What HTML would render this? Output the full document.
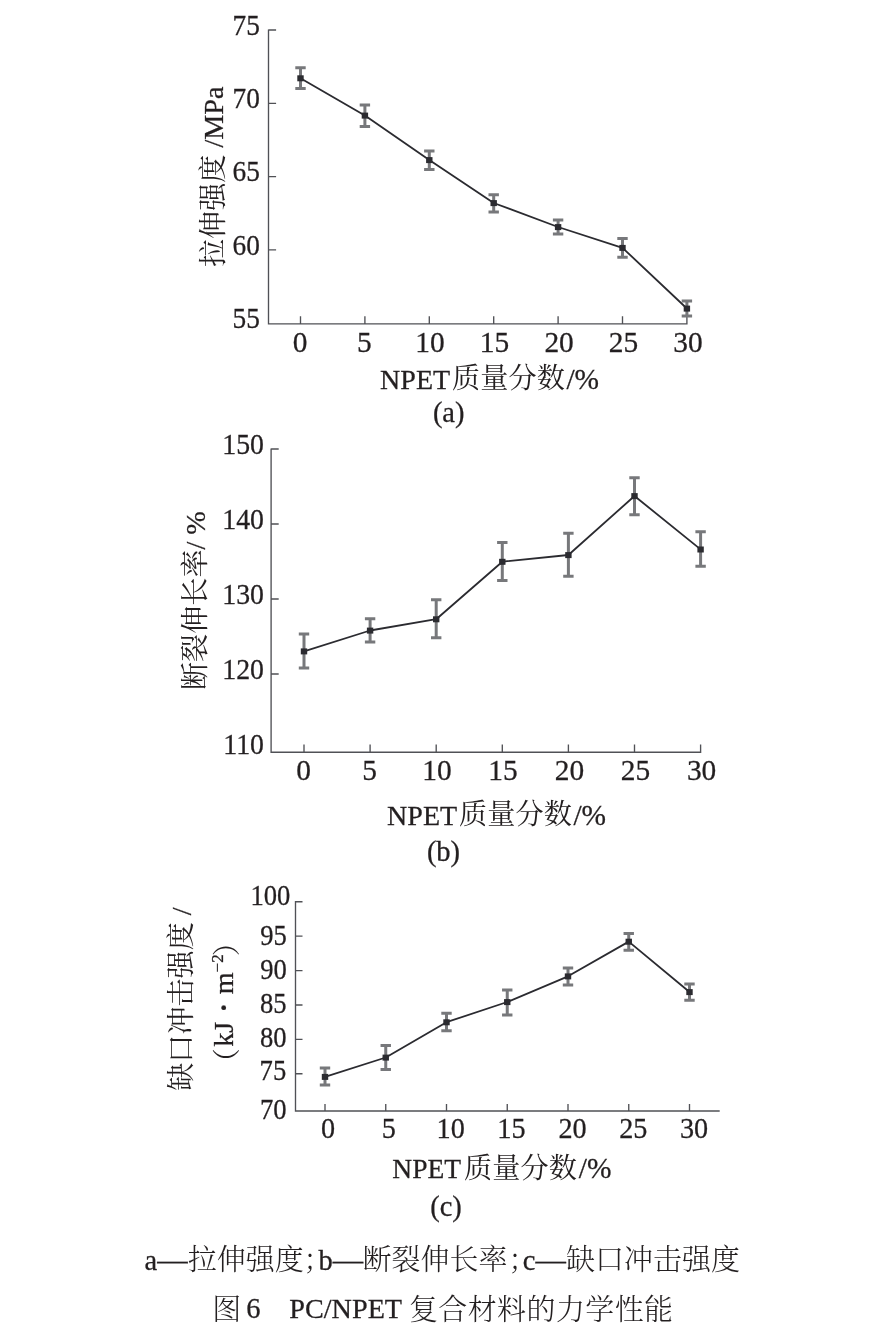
<!DOCTYPE html>
<html lang="zh"><head><meta charset="utf-8"><title>图6 PC/NPET复合材料的力学性能</title>
<style>html,body{margin:0;padding:0;background:#fff}svg{display:block}text{font-family:"Liberation Serif", "Noto Serif CJK SC", serif;fill:#231f20;font-size:29.4px;stroke:#231f20;stroke-width:.28px}.t{font-size:28.5px}.c{font-size:28.2px;stroke:none}.k{font-size:29px;stroke:none;font-weight:300}.v{font-size:28.2px}.vc{font-size:28.1px;stroke:none}.ax{stroke:#505156;stroke-width:1.35;fill:none}.eb{stroke:#77787b;stroke-width:3;fill:none}.ln{stroke:#2b2b30;stroke-width:1.8;fill:none;stroke-linejoin:round}.mk{fill:#2b2b30}</style></head><body>
<svg width="884" height="1339" viewBox="0 0 884 1339">
<rect width="884" height="1339" fill="#fff"/>
<path class="ax" d="M268.50 29.50V323.90H687.60M268.50 30.00h7.60M268.50 103.30h7.60M268.50 176.60h7.60M268.50 249.90h7.60M300.50 323.90v-7.60M364.90 323.90v-7.60M429.30 323.90v-7.60M493.70 323.90v-7.60M558.10 323.90v-7.60M622.50 323.90v-7.60M686.90 323.90v-7.60"/>
<text transform="translate(259.80 34.80) scale(0.93 1)" text-anchor="end">75</text>
<text transform="translate(259.80 108.10) scale(0.93 1)" text-anchor="end">70</text>
<text transform="translate(259.80 181.40) scale(0.93 1)" text-anchor="end">65</text>
<text transform="translate(259.80 254.70) scale(0.93 1)" text-anchor="end">60</text>
<text transform="translate(259.80 328.00) scale(0.93 1)" text-anchor="end">55</text>
<text x="300.00" y="351.60" text-anchor="middle">0</text>
<text x="364.40" y="351.60" text-anchor="middle">5</text>
<text x="430.00" y="351.60" text-anchor="middle">10</text>
<text x="494.40" y="351.60" text-anchor="middle">15</text>
<text x="559.10" y="351.60" text-anchor="middle">20</text>
<text x="623.50" y="351.60" text-anchor="middle">25</text>
<text x="687.90" y="351.60" text-anchor="middle">30</text>
<path class="eb" d="M300.50 67.80V88.60M295.30 67.80h10.4M295.30 88.60h10.4M364.90 105.00V126.50M359.70 105.00h10.4M359.70 126.50h10.4M429.30 151.00V169.50M424.10 151.00h10.4M424.10 169.50h10.4M493.70 194.80V212.00M488.50 194.80h10.4M488.50 212.00h10.4M558.10 220.00V234.00M552.90 220.00h10.4M552.90 234.00h10.4M622.50 238.50V257.30M617.30 238.50h10.4M617.30 257.30h10.4M686.90 301.00V316.00M681.70 301.00h10.4M681.70 316.00h10.4"/>
<polyline class="ln" points="300.50,78.20 364.90,115.50 429.30,160.00 493.70,203.00 558.10,227.00 622.50,247.80 686.90,308.50"/>
<rect class="mk" x="297.30" y="75.30" width="6.4" height="6"/>
<rect class="mk" x="361.70" y="112.60" width="6.4" height="6"/>
<rect class="mk" x="426.10" y="157.10" width="6.4" height="6"/>
<rect class="mk" x="490.50" y="200.10" width="6.4" height="6"/>
<rect class="mk" x="554.90" y="224.10" width="6.4" height="6"/>
<rect class="mk" x="619.30" y="244.90" width="6.4" height="6"/>
<rect class="mk" x="683.70" y="305.60" width="6.4" height="6"/>
<path class="ax" d="M271.10 448.40V752.20H701.30M271.10 449.00h7.60M271.10 524.00h7.60M271.10 599.00h7.60M271.10 674.00h7.60M304.00 752.20v-7.60M370.10 752.20v-7.60M436.20 752.20v-7.60M502.30 752.20v-7.60M568.40 752.20v-7.60M634.50 752.20v-7.60M700.60 752.20v-7.60"/>
<text transform="translate(264.00 453.90) scale(0.945 1)" text-anchor="end">150</text>
<text transform="translate(264.00 528.90) scale(0.945 1)" text-anchor="end">140</text>
<text transform="translate(264.00 603.90) scale(0.945 1)" text-anchor="end">130</text>
<text transform="translate(264.00 678.90) scale(0.945 1)" text-anchor="end">120</text>
<text transform="translate(264.00 753.90) scale(0.945 1)" text-anchor="end">110</text>
<text x="303.50" y="780.20" text-anchor="middle">0</text>
<text x="369.60" y="780.20" text-anchor="middle">5</text>
<text x="436.90" y="780.20" text-anchor="middle">10</text>
<text x="503.00" y="780.20" text-anchor="middle">15</text>
<text x="569.40" y="780.20" text-anchor="middle">20</text>
<text x="635.50" y="780.20" text-anchor="middle">25</text>
<text x="701.60" y="780.20" text-anchor="middle">30</text>
<path class="eb" d="M304.00 634.00V668.00M298.80 634.00h10.4M298.80 668.00h10.4M370.10 618.80V642.00M364.90 618.80h10.4M364.90 642.00h10.4M436.20 599.80V637.80M431.00 599.80h10.4M431.00 637.80h10.4M502.30 542.60V580.40M497.10 542.60h10.4M497.10 580.40h10.4M568.40 533.30V576.20M563.20 533.30h10.4M563.20 576.20h10.4M634.50 477.70V514.70M629.30 477.70h10.4M629.30 514.70h10.4M700.60 531.80V566.20M695.40 531.80h10.4M695.40 566.20h10.4"/>
<polyline class="ln" points="304.00,651.30 370.10,630.50 436.20,619.20 502.30,561.70 568.40,555.00 634.50,496.00 700.60,549.40"/>
<rect class="mk" x="300.80" y="648.40" width="6.4" height="6"/>
<rect class="mk" x="366.90" y="627.60" width="6.4" height="6"/>
<rect class="mk" x="433.00" y="616.30" width="6.4" height="6"/>
<rect class="mk" x="499.10" y="558.80" width="6.4" height="6"/>
<rect class="mk" x="565.20" y="552.10" width="6.4" height="6"/>
<rect class="mk" x="631.30" y="493.10" width="6.4" height="6"/>
<rect class="mk" x="697.40" y="546.50" width="6.4" height="6"/>
<path class="ax" d="M295.50 901.10V1111.00H719.70M295.50 901.75h7.00M295.50 936.15h7.00M295.50 970.55h7.00M295.50 1004.95h7.00M295.50 1039.35h7.00M295.50 1073.75h7.00M325.00 1111.00v-7.00M385.75 1111.00v-7.00M446.50 1111.00v-7.00M507.25 1111.00v-7.00M568.00 1111.00v-7.00M628.75 1111.00v-7.00M689.50 1111.00v-7.00"/>
<text transform="translate(290.30 905.30) scale(0.905 1)" text-anchor="end">100</text>
<text transform="translate(286.80 944.80) scale(0.905 1)" text-anchor="end">95</text>
<text transform="translate(286.80 978.50) scale(0.905 1)" text-anchor="end">90</text>
<text transform="translate(286.60 1013.00) scale(0.905 1)" text-anchor="end">85</text>
<text transform="translate(286.60 1047.30) scale(0.905 1)" text-anchor="end">80</text>
<text transform="translate(286.20 1080.40) scale(0.905 1)" text-anchor="end">75</text>
<text transform="translate(286.60 1118.80) scale(0.905 1)" text-anchor="end">70</text>
<text transform="translate(328.00 1137.60) scale(0.96 1)" text-anchor="middle">0</text>
<text transform="translate(388.75 1137.60) scale(0.96 1)" text-anchor="middle">5</text>
<text transform="translate(450.70 1137.60) scale(0.96 1)" text-anchor="middle">10</text>
<text transform="translate(511.45 1137.60) scale(0.96 1)" text-anchor="middle">15</text>
<text transform="translate(572.50 1137.60) scale(0.96 1)" text-anchor="middle">20</text>
<text transform="translate(633.25 1137.60) scale(0.96 1)" text-anchor="middle">25</text>
<text transform="translate(694.00 1137.60) scale(0.96 1)" text-anchor="middle">30</text>
<path class="eb" d="M325.00 1068.00V1085.00M319.80 1068.00h10.4M319.80 1085.00h10.4M385.75 1045.50V1069.50M380.55 1045.50h10.4M380.55 1069.50h10.4M446.50 1013.30V1030.80M441.30 1013.30h10.4M441.30 1030.80h10.4M507.25 990.10V1015.10M502.05 990.10h10.4M502.05 1015.10h10.4M568.00 968.10V984.90M562.80 968.10h10.4M562.80 984.90h10.4M628.75 933.40V950.20M623.55 933.40h10.4M623.55 950.20h10.4M689.50 984.10V1000.20M684.30 984.10h10.4M684.30 1000.20h10.4"/>
<polyline class="ln" points="325.00,1076.80 385.75,1057.50 446.50,1022.20 507.25,1002.00 568.00,976.30 628.75,941.60 689.50,992.00"/>
<rect class="mk" x="321.80" y="1073.90" width="6.4" height="6"/>
<rect class="mk" x="382.55" y="1054.60" width="6.4" height="6"/>
<rect class="mk" x="443.30" y="1019.30" width="6.4" height="6"/>
<rect class="mk" x="504.05" y="999.10" width="6.4" height="6"/>
<rect class="mk" x="564.80" y="973.40" width="6.4" height="6"/>
<rect class="mk" x="625.55" y="938.70" width="6.4" height="6"/>
<rect class="mk" x="686.30" y="989.10" width="6.4" height="6"/>
<text class="t" y="389.00"><tspan x="380.10" font-size="28.0">NPET</tspan><tspan class="c" x="452.00" dy="-0.6" letter-spacing="0.1">质量分数</tspan><tspan x="566.40" dy="0.6" font-size="29.4">/%</tspan></text>
<text class="t" y="824.50"><tspan x="387.10" font-size="28.0">NPET</tspan><tspan class="c" x="459.00" dy="-0.6" letter-spacing="0.1">质量分数</tspan><tspan x="573.40" dy="0.6" font-size="29.4">/%</tspan></text>
<text class="t" y="1178.30"><tspan x="392.30" font-size="27.5">NPET</tspan><tspan class="c" x="464.00" dy="-0.6" letter-spacing="0.1">质量分数</tspan><tspan x="578.80" dy="0.6" font-size="29.4">/%</tspan></text>
<text class="t" x="448.7" y="421.5" text-anchor="middle">(a)</text>
<text class="t" x="443.5" y="861" text-anchor="middle">(b)</text>
<text class="t" x="446" y="1216" text-anchor="middle">(c)</text>
<text class="v" transform="translate(222.5 267) rotate(-90)"><tspan class="vc">拉伸强度</tspan> /MPa</text>
<text class="v" transform="translate(205 690) rotate(-90)"><tspan class="vc">断裂伸长率</tspan>/ %</text>
<text class="v" transform="translate(190.8 1090.8) rotate(-90)"><tspan class="vc">缺口冲击强度</tspan> /</text>
<text class="v" transform="translate(233 1070) rotate(-90)"><tspan class="vc" x="-6.2" dy="4.1">（</tspan><tspan x="23.2" dy="-4.1">kJ</tspan><tspan x="62.4" dy="3.8" text-anchor="middle" font-size="37" style="font-family:'Noto Serif CJK SC', 'Liberation Serif', serif">·</tspan><tspan x="75.7" dy="-3.8">m</tspan><tspan font-size="17" dy="-10">−2</tspan><tspan class="vc" dx="-2.0" dy="14.1">）</tspan></text>
<text class="t" y="1269.5"><tspan x="144.5">a</tspan><tspan font-size="30.4">—</tspan><tspan class="k" x="187.8">拉伸强度</tspan><tspan class="k" x="303.4">；</tspan><tspan x="318.5">b</tspan><tspan font-size="30.4">—</tspan><tspan class="k" x="362.6">断裂伸长率</tspan><tspan class="k" x="508.5">；</tspan><tspan x="522.8">c</tspan><tspan font-size="30.4">—</tspan><tspan class="k" x="566.1">缺口冲击强度</tspan></text>
<text class="t" y="1318.3"><tspan class="k" x="212.2" dy="1.4">图</tspan><tspan x="246.3" dy="-1.4">6</tspan><tspan x="274.5">　</tspan><tspan x="289.3" font-size="28.2">PC/NPET</tspan><tspan class="k" x="408.9" dy="1.4" letter-spacing="0.4">复合材料的力学性能</tspan></text>
</svg></body></html>
